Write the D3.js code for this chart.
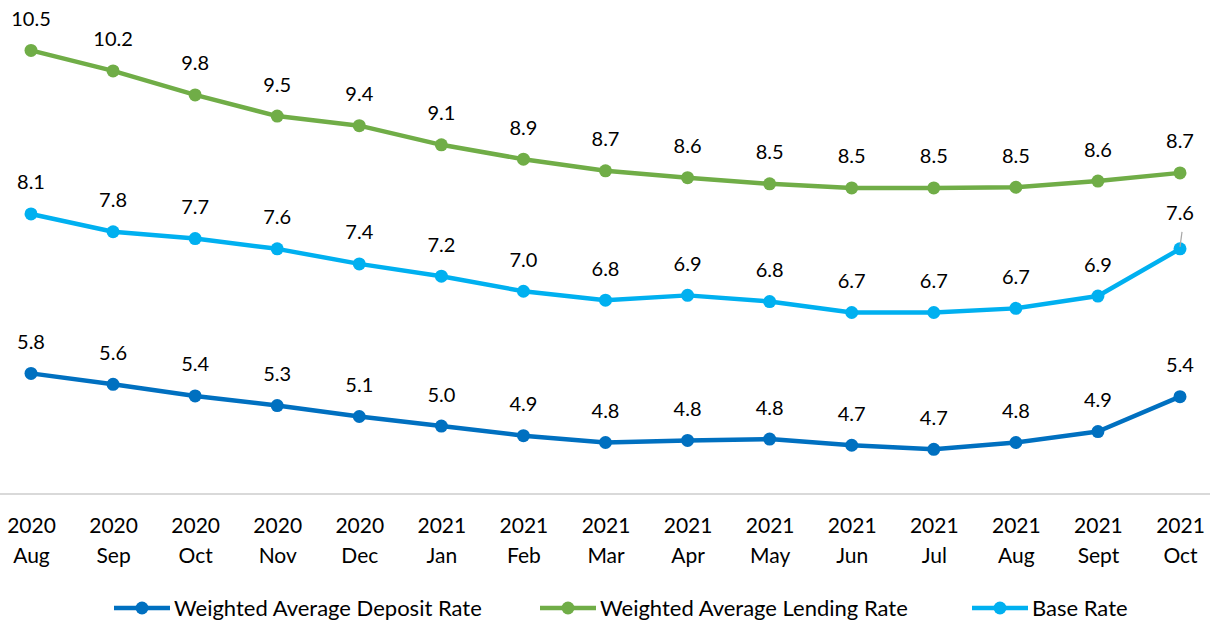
<!DOCTYPE html>
<html><head><meta charset="utf-8">
<script src="https://cdn.jsdelivr.net/npm/d3@7"></script>
<style>body{margin:0;background:#fff}svg{display:block}text{font-family:Lato,"Open Sans",sans-serif}</style>
</head><body><svg id="c" width="1210" height="623"></svg>
<script>
const years = ["2020","2020","2020","2020","2020","2021","2021","2021","2021","2021","2021","2021","2021","2021","2021"];
const months = ["Aug","Sep","Oct","Nov","Dec","Jan","Feb","Mar","Apr","May","Jun","Jul","Aug","Sept","Oct"];
const deposit = [5.77,5.61,5.44,5.30,5.14,5.00,4.86,4.76,4.79,4.81,4.72,4.66,4.76,4.92,5.43];
const lending = [10.49,10.19,9.84,9.53,9.39,9.11,8.90,8.73,8.63,8.54,8.48,8.48,8.49,8.58,8.70];
const base = [8.10,7.84,7.74,7.59,7.37,7.19,6.97,6.84,6.91,6.82,6.66,6.66,6.72,6.90,7.59];
const seriesNames = ["Weighted Average Deposit Rate","Weighted Average Lending Rate","Base Rate"];
const colors = ["#0070C0","#70AD47","#00B0F0"];

const svg = d3.select("#c");
const idx = d3.range(months.length);
const x = d3.scalePoint().domain(idx).range([31,1180]);
const y = d3.scaleLinear().domain([4,11]).range([494.5,15.5]);

// axis
const xAxis = d3.axisBottom(x).tickSize(0).tickFormat(()=>"");
const ag = svg.append("g").attr("transform","translate(0,494)").call(xAxis);
ag.select(".domain").attr("d","M0,0H1210").attr("stroke","#d9d9d9").attr("stroke-width",2);
ag.selectAll(".tick text").remove();
ag.selectAll(".tick").each(function(d){
  const g=d3.select(this);
  g.append("text").attr("y",38.5).attr("text-anchor","middle").attr("font-size",21).attr("fill","#000").text(years[d]);
  g.append("text").attr("y",68.5).attr("text-anchor","middle").attr("font-size",21).attr("fill","#000").text(months[d]);
});

const all = [deposit,lending,base];
const line = d3.line().x((d,i)=>x(i)).y(d=>y(d));
all.forEach((vals,s)=>{
  const g = svg.append("g");
  g.append("path").datum(vals).attr("d",line).attr("fill","none").attr("stroke",colors[s]).attr("stroke-width",4.5).attr("stroke-linejoin","round");
  g.selectAll("circle").data(vals).join("circle").attr("cx",(d,i)=>x(i)).attr("cy",d=>y(d)).attr("r",6.5).attr("fill",colors[s]);
  g.selectAll("text").data(vals).join("text")
    .attr("x",(d,i)=>x(i)).attr("y",(d,i)=>y(d)-24.5 - ((s===2&&i===vals.length-1)?4:0))
    .attr("text-anchor","middle").attr("font-size",20).attr("fill","#000")
    .text(d=>d.toFixed(1));
});
// leader line for last base label
const li = base.length-1;
svg.append("line").attr("x1",x(li)).attr("y1",y(base[li])-2).attr("x2",x(li)+2).attr("y2",y(base[li])-17).attr("stroke","#a6a6a6").attr("stroke-width",1.2);

// legend
const legX = [114,540,972];
seriesNames.forEach((n,s)=>{
  const g = svg.append("g").attr("transform",`translate(${legX[s]},608)`);
  g.append("line").attr("x1",0).attr("x2",56).attr("stroke",colors[s]).attr("stroke-width",4.5);
  g.append("circle").attr("cx",28).attr("r",6.5).attr("fill",colors[s]);
  g.append("text").attr("x",60).attr("y",8).attr("font-size",22).attr("fill","#000").text(n);
});
</script></body></html>
